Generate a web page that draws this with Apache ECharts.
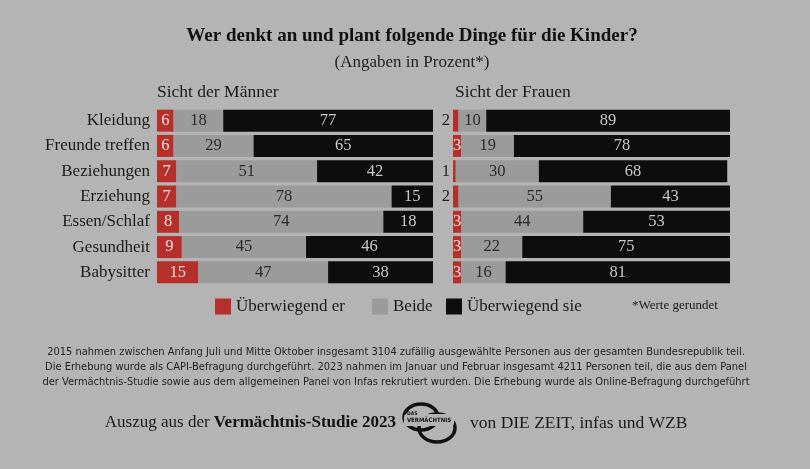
<!DOCTYPE html>
<html>
<head>
<meta charset="utf-8">
<script src="https://cdn.jsdelivr.net/npm/echarts@6/dist/echarts.min.js"></script>
<style>
html,body{margin:0;padding:0;background:#b4b4b4;}
#chart{width:810px;height:469px;}
</style>
</head>
<body>
<div id="chart"></div>
<script>
const categories = ['Kleidung','Freunde treffen','Beziehungen','Erziehung','Essen/Schlaf','Gesundheit','Babysitter'];
const menEr = [6,6,7,7,8,9,15];
const menBeide = [18,29,51,78,74,45,47];
const menSie = [77,65,42,15,18,46,38];
const frauenEr = [2,3,1,2,3,3,3];
const frauenBeide = [10,19,30,55,44,22,16];
const frauenSie = [89,78,68,43,53,75,81];
const legendNames = ['Überwiegend er','Beide','Überwiegend sie'];

const SERIF = "'Liberation Serif', 'DejaVu Serif', serif";
const NARROW = "'Liberation Sans Narrow', 'DejaVu Sans Condensed', 'Liberation Sans', sans-serif";
const RED = '#b5302a', GREY = '#9b9b9b', BLACK = '#0d0d0d';

function erData(arr){
  return arr.map(v => v < 3
    ? {value: v, label: {position: 'left', distance: 3, color: '#222'}}
    : {value: v});
}

function mkSeries(idx, er, beide, sie){
  const base = {type:'bar', stack:'s'+idx, xAxisIndex:idx, yAxisIndex:idx, barWidth:22,
    label:{show:true, position:'inside', fontFamily:SERIF, fontSize:16.5}};
  return [
    Object.assign({}, base, {name:legendNames[0], data:erData(er), itemStyle:{color:RED},
      label:Object.assign({}, base.label, {color:'#f2dede'})}),
    Object.assign({}, base, {name:legendNames[1], data:beide, itemStyle:{color:GREY},
      label:Object.assign({}, base.label, {color:'#2a2a2a'})}),
    Object.assign({}, base, {name:legendNames[2], data:sie, itemStyle:{color:BLACK},
      label:Object.assign({}, base.label, {color:'#c8c8c8'})})
  ];
}

function mkLegend(name, left){
  return {data:[name], left:left, top:293, itemWidth:16, itemHeight:16, icon:'rect',
    textStyle:{fontFamily:SERIF, fontSize:17, color:'#1a1a1a'}};
}

const chart = echarts.init(document.getElementById('chart'));
const option = {
  backgroundColor:'#b4b4b4',
  animation:false,
  title:{
    text:'Wer denkt an und plant folgende Dinge für die Kinder?',
    left:407, top:22, textAlign:'center',
    textStyle:{fontFamily:SERIF, fontSize:19, fontWeight:'bold', color:'#111'},
    subtext:'(Angaben in Prozent*)',
    subtextStyle:{fontFamily:SERIF, fontSize:17, color:'#222'},
    itemGap:8
  },
  legend:[
    mkLegend(legendNames[0], 210),
    mkLegend(legendNames[1], 367),
    mkLegend(legendNames[2], 441)
  ],
  grid:[
    {left:157, width:276, top:108, height:177},
    {left:453, width:277, top:108, height:177}
  ],
  xAxis:[
    {type:'value', gridIndex:0, min:0, max:100, show:false},
    {type:'value', gridIndex:1, min:0, max:100, show:false}
  ],
  yAxis:[
    {type:'category', gridIndex:0, data:categories, inverse:true,
      axisLine:{show:false}, axisTick:{show:false},
      axisLabel:{fontFamily:SERIF, fontSize:17, color:'#1a1a1a', margin:7}},
    {type:'category', gridIndex:1, data:categories, inverse:true,
      axisLine:{show:false}, axisTick:{show:false}, axisLabel:{show:false}}
  ],
  series: mkSeries(0, menEr, menBeide, menSie).concat(mkSeries(1, frauenEr, frauenBeide, frauenSie)),
  graphic:[
    {type:'text', x:157, y:92, style:{text:'Sicht der Männer', font:'17.5px '+SERIF, fill:'#1a1a1a', verticalAlign:'middle'}},
    {type:'text', x:455, y:92, style:{text:'Sicht der Frauen', font:'17.5px '+SERIF, fill:'#1a1a1a', verticalAlign:'middle'}},
    {type:'text', x:632, y:306, style:{text:'*Werte gerundet', font:'13px '+SERIF, fill:'#1a1a1a', verticalAlign:'middle'}},
    {type:'text', x:396, y:352, style:{text:'2015 nahmen zwischen Anfang Juli und Mitte Oktober insgesamt 3104 zufällig ausgewählte Personen aus der gesamten Bundesrepublik teil.', font:'11px '+NARROW, fill:'#1e1e1e', align:'center', verticalAlign:'middle'}},
    {type:'text', x:396, y:367, style:{text:'Die Erhebung wurde als CAPI-Befragung durchgeführt. 2023 nahmen im Januar und Februar insgesamt 4211 Personen teil, die aus dem Panel', font:'11px '+NARROW, fill:'#1e1e1e', align:'center', verticalAlign:'middle'}},
    {type:'text', x:396, y:382, style:{text:'der Vermächtnis-Studie sowie aus dem allgemeinen Panel von Infas rekrutiert wurden. Die Erhebung wurde als Online-Befragung durchgeführt', font:'11px '+NARROW, fill:'#1e1e1e', align:'center', verticalAlign:'middle'}},
    {type:'text', x:396, y:423, style:{text:'Auszug aus der {b|Vermächtnis-Studie 2023}', font:'17px '+SERIF, fill:'#1a1a1a', align:'right', verticalAlign:'middle',
      rich:{b:{fontFamily:SERIF, fontSize:17, fontWeight:'bold', fill:'#111'}}}},
    {type:'text', x:470, y:423, style:{text:'von DIE ZEIT, infas und WZB', font:'17.5px '+SERIF, fill:'#1a1a1a', align:'left', verticalAlign:'middle'}},
    {type:'ellipse', shape:{cx:421, cy:417, rx:17, ry:13}, style:{fill:'none', stroke:'#111', lineWidth:3.5}},
    {type:'ellipse', shape:{cx:437, cy:428, rx:18, ry:14}, style:{fill:'none', stroke:'#111', lineWidth:3.5}},
    {type:'rect', shape:{x:404, y:414, width:50, height:12, r:3}, style:{fill:'#b4b4b4'}},
    {type:'text', x:407, y:416, style:{text:'DAS', font:'bold 5px '+NARROW, fill:'#111', verticalAlign:'bottom'}},
    {type:'text', x:429, y:420, style:{text:'VERMÄCHTNIS', font:'bold 6px '+NARROW, fill:'#111', align:'center', verticalAlign:'middle'}}
  ]
};
chart.setOption(option);
</script>
</body>
</html>
